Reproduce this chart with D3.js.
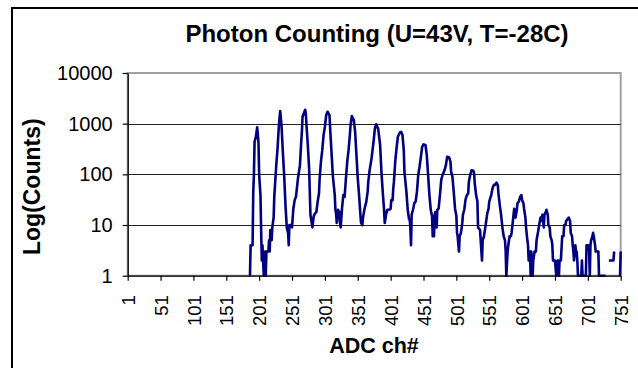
<!DOCTYPE html>
<html><head><meta charset="utf-8">
<script src="https://cdn.jsdelivr.net/npm/d3@7"></script>
<style>body{margin:0;background:#fff}svg{display:block}text{font-family:"Liberation Sans",Arial,sans-serif;fill:#000}</style>
</head><body><svg id="c" width="638" height="368"></svg>
<script>
const chartTitle = "Photon Counting (U=43V, T=-28C)";
const xTitle = "ADC ch#";
const yTitle = "Log(Counts)";
const xTicks = [1,51,101,151,201,251,301,351,401,451,501,551,601,651,701,751];
const yTicks = [1,10,100,1000,10000];
const gridValues = [10,100,1000];

const channels = [187,188,191,192,193,194,196,198,199,200,201,203,204,205,206,207,208,210,211,212,215,216,217,218,220,221,223,224,227,229,231,233,235,237,239,241,243,245,246,247,249,251,253,255,257,260,263,265,266,267,271,272,273,275,277,278,279,282,284,
286,288,290,292,293,295,297,299,301,303,305,308,309,311,313,316,317,318,319,321,323,324,325,327,329,331,333,335,337,339,340,342,345,347,349,351,353,355,356,358,359,361,364,366,
367,369,372,375,377,379,382,385,387,389,391,392,394,396,399,401,402,404,405,406,408,410,412,415,417,419,421,422,425,427,429,430,431,432,433,435,437,439,441,443,445,
447,449,451,454,456,458,460,462,464,465,467,468,469,471,472,474,476,478,480,483,485,487,490,492,493,495,497,499,501,502,503,505,506,508,510,511,513,515,517,519,520,522,524,527,
528,529,531,533,534,537,538,540,541,543,545,546,548,550,551,554,556,558,560,562,564,565,567,569,571,573,575,576,577,579,580,582,584,585,587,589,591,593,594,596,598,600,601,603,604,606,607,609,
610,611,613,614,615,617,618,620,622,623,625,627,629,630,632,634,635,637,638,640,641,643,644,646,647,648,651,653,655,657,658,660,662,664,665,667,668,670,672,674,675,677,678,679,680,682,683,684,685,686,
691,692,693,698,699,700,702,703,704,705,706,708,709,710,712,713,715,717,718,728,729,733,740,741,742,750,751];

const counts = [1,4,4,45,97,440,550,850,600,410,97,39,8,2,4,2,1,3,1,3,3,5,3,8,5,9,14,36,150,330,930,1780,930,280,97,25,9,7,4,10,10,9,21,31,36,83,150,440,690,1370,1880,1590,930,380,130,45,16,9,15,
17,18,29,42,83,178,300,600,870,1470,1720,1470,800,280,97,39,20,17,11,20,18,11,9,21,39,36,83,178,300,600,930,1420,1180,690,240,83,39,16,11,10,14,20,29,45,
71,120,207,440,800,970,800,380,112,45,20,11,16,20,20,21,31,31,53,71,178,330,550,670,690,600,300,112,45,20,13,13,9,4,16,20,27,29,45,97,141,
222,350,390,380,240,97,39,20,15,6,6,16,18,9,20,21,39,78,97,120,150,222,215,178,112,90,45,21,15,7,6,3,6,7,11,16,20,32,39,42,71,97,120,118,
104,66,39,29,9,8,5,2,5,6,9,11,17,21,29,39,53,62,62,69,62,42,25,16,9,6,5,3,1,3,4,6,6,7,12,21,14,20,27,29,36,39,31,27,21,14,9,5,
4,2,3,1,3,1,2,3,3,5,7,10,14,12,16,9,16,18,20,16,10,9,6,5,4,2,2,1,2,1,2,2,6,6,10,10,12,13,14,12,7,6,4,3,2,4,3,3,2,1,
1,2,1,1,4,4,4,3,1,4,5,6,7,6,4,3,3,3,1,1,null,2,2,3,null,1,3];

const svg = d3.select("#c");
const W = 638, H = 368;
const plot = {left: 127.7, right: 620.7, top: 73, bottom: 275.7};

const x = d3.scaleLinear().domain([1, 751]).range([plot.left, plot.right]);
const y = d3.scaleLog().domain([1, 10000]).range([plot.bottom, plot.top]);

svg.append("rect").attr("x",0).attr("y",0).attr("width",W).attr("height",H).attr("fill","#fff");
// chart area border
svg.append("rect").attr("x",12).attr("y",8).attr("width",720).attr("height",420)
  .attr("fill","none").attr("stroke","#000").attr("stroke-width",2);

// plot area border
svg.append("rect").attr("x",plot.left).attr("y",plot.top)
  .attr("width",plot.right-plot.left).attr("height",plot.bottom-plot.top)
  .attr("fill","#fff").attr("stroke","#a0a0a0").attr("stroke-width",2);

// gridlines
svg.append("g").selectAll("line").data(gridValues).join("line")
  .attr("x1",plot.left).attr("x2",plot.right)
  .attr("y1",d=>Math.round(y(d))+0.5).attr("y2",d=>Math.round(y(d))+0.5)
  .attr("stroke","#222").attr("stroke-width",1.2);

// data line
const data = channels.map((c,i)=>({c, v: counts[i]}));
const line = d3.line().defined(d=>d.v!=null && d.v>0).x(d=>x(d.c)).y(d=>y(d.v));
svg.append("path").datum(data).attr("d",line)
  .attr("fill","none").attr("stroke","#000080").attr("stroke-width",2.6)
  .attr("stroke-linejoin","round").attr("stroke-linecap","butt");

// y axis
const yAxis = svg.append("g").attr("transform",`translate(${plot.left},0)`)
  .call(d3.axisLeft(y).tickValues(yTicks).tickFormat(d3.format("d")).tickSize(5).tickSizeOuter(0).tickPadding(10));
yAxis.select(".domain").attr("stroke","#000").attr("stroke-width",1.3);
yAxis.selectAll(".tick line").attr("stroke","#000").attr("stroke-width",1.2);
yAxis.selectAll(".tick text").style("font-size","20px").style("font-family","'Liberation Sans',Arial,sans-serif").attr("fill","#000");

// x axis
const xAxis = svg.append("g").attr("transform",`translate(0,${plot.bottom})`)
  .call(d3.axisBottom(x).tickValues(xTicks).tickFormat(d3.format("d")).tickSize(5).tickSizeOuter(0));
xAxis.select(".domain").attr("stroke","#000").attr("stroke-width",1.3);
xAxis.selectAll(".tick line").attr("stroke","#000").attr("stroke-width",1.2);
xAxis.selectAll(".tick text")
  .attr("transform","rotate(-90)").attr("x",-19.5).attr("y",0).attr("dy","0.36em")
  .style("text-anchor","end").style("font-size","18.5px")
  .style("font-family","'Liberation Sans',Arial,sans-serif").attr("fill","#000");

// titles
svg.append("text").attr("x",377).attr("y",42).attr("text-anchor","middle")
  .style("font-size","24px").style("font-weight","bold").text(chartTitle);
svg.append("text").attr("x",374).attr("y",352.5).attr("text-anchor","middle")
  .style("font-size","21.5px").style("font-weight","bold").text(xTitle);
svg.append("text").attr("transform","translate(40,186.7) rotate(-90)").attr("text-anchor","middle")
  .style("font-size","23px").style("font-weight","bold").text(yTitle);
</script></body></html>
